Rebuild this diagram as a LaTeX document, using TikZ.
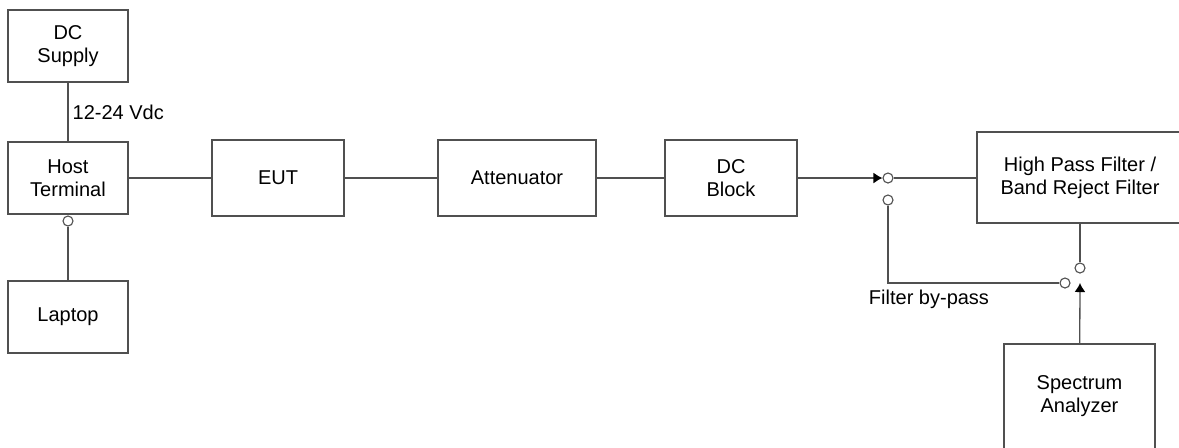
\documentclass[tikz,border=0pt]{standalone}
\usepackage{fontspec}
\setmainfont{Liberation Sans}
\usetikzlibrary{arrows.meta,positioning}
\definecolor{WireGray}{RGB}{80,80,80}

\begin{document}
\begin{tikzpicture}[x=0.5pt,y=-0.5pt,>={Latex[length=4.5pt,width=5.5pt,color=black]},
    blk/.style={draw=WireGray,line width=0.65pt,align=center,inner sep=0pt,
      font=\fontsize{10}{11.5}\selectfont},
    port/.style={draw=WireGray,line width=0.55pt,fill=white,circle,inner sep=0pt,minimum size=5pt},
    wire/.style={draw=WireGray,line width=0.65pt},
    lbl/.style={font=\fontsize{10}{11.5}\selectfont,inner sep=0pt}]
      \clip (0,0) rectangle (1179,447);
      % left column
      \node[blk,minimum width=60pt,minimum height=36pt] (supply) at (68,46) {DC\\Supply};
      \node[blk,minimum width=60pt,minimum height=36pt] (host) at (68,178) {Host\\Terminal};
      \node[blk,minimum width=60pt,minimum height=36pt] (laptop) at (68,317) {Laptop};
      \node[port] (usb) at (68,221) {};
      % signal chain
      \node[blk,minimum width=66pt,minimum height=38pt] (eut) at (278,178) {EUT};
      \node[blk,minimum width=79pt,minimum height=38pt] (att) at (517,178) {Attenuator};
      \node[blk,minimum width=66pt,minimum height=38pt] (dcblk) at (731,178) {DC\\Block};
      \node[blk,minimum width=103pt,minimum height=45.5pt] (hpf) at (1080,177.5) {High Pass Filter /\\Band Reject Filter};
      \node[blk,minimum width=75.5pt,minimum height=52.5pt] (sa) at (1079.5,396.5) {Spectrum\\Analyzer};
      % switches
      \node[port] (swin) at (888,178) {};
      \node[port] (swbyp) at (888,200) {};
      \node[port] (swout) at (1080,268) {};
      \node[port] (swret) at (1065,283) {};
      \coordinate (satip) at (1080,283);
      % wiring
      \draw[wire] (supply) -- (host) node[lbl,midway,right=2pt]{12-24 Vdc};
      \draw[wire] (usb) -- (laptop);
      \draw[wire] (host) -- (eut);
      \draw[wire] (eut) -- (att);
      \draw[wire] (att) -- (dcblk);
      \draw[wire,->] (dcblk) -- (swin.west);
      \draw[wire] (swin.east) -- (swin.east -| hpf.west);
      \draw[wire] (hpf) -- (swout);
      \draw[wire] (swbyp.south) |- (swret.west);
      \draw[wire,->] (sa) -- (satip);
      \node[lbl,anchor=north] (byp) at (929,290) {Filter by-pass};
    \end{tikzpicture}
\end{document}
